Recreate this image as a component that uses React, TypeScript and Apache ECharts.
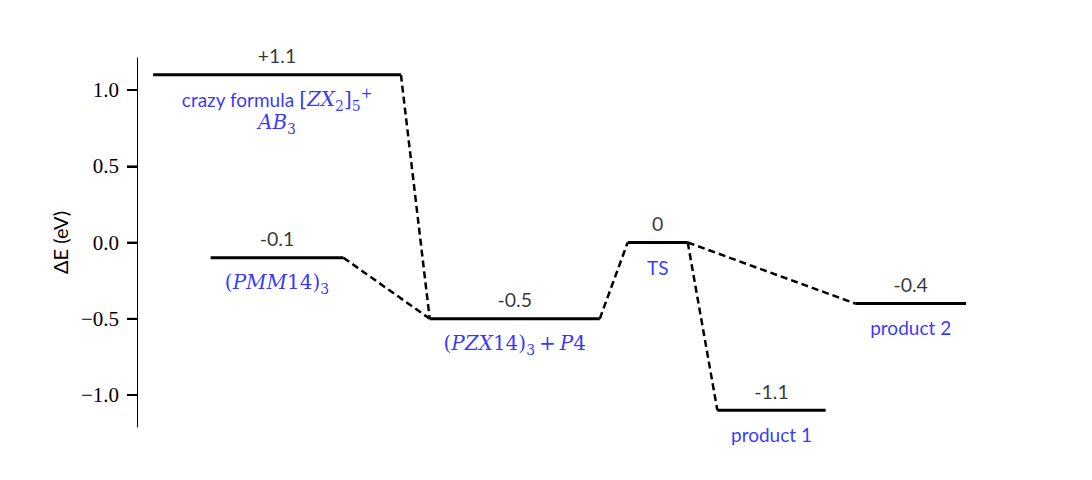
import React, { useEffect, useRef } from "react";
import * as echarts from "echarts";

// Energy levels (eV)
const levelEnergies = [1.1, -0.1, -0.5, 0, -1.1, -0.4];
// Horizontal extent of each level (arbitrary reaction-coordinate units, 0..100)
const levelStart = [1.9, 8.7, 34.6, 58.0, 68.6, 84.9];
const levelEnd = [31.2, 24.4, 54.7, 65.1, 81.4, 98.0];
// Value labels above each level
const valueLabels = ["+1.1", "-0.1", "-0.5", "0", "-1.1", "-0.4"];
// Name labels below each level (rich text)
const nameLabels = [
  "{sans|crazy formula }{rm|[}{it|ZX}{sub|2}{rm|]}{sub|5}{sup|+}\n{it|AB}{sub|3}",
  "{rm|(}{it|PMM}{rm|14)}{sub|3}",
  "{rm|(}{it|PZX}{rm|14)}{sub|3}{rm|\u2009+\u2009}{it|P}{rm|4}",
  "{sans|TS}",
  "{sans|product 1}",
  "{sans|product 2}",
];
// Links between levels: [from, to]
const links: [number, number][] = [
  [0, 2],
  [1, 2],
  [2, 3],
  [3, 4],
  [3, 5],
];
const yTicks = [-1.0, -0.5, 0.0, 0.5, 1.0];

const SANS = "Lato";
const SERIF = "Liberation Serif";
const MATH = "DejaVu Serif";
const BLUE = "#0000ff";

export default function App() {
  const ref = useRef<HTMLDivElement>(null);
  useEffect(() => {
    if (!ref.current) return;
    const chart = echarts.init(ref.current, null, { renderer: "svg" });

    const levelSeries = levelEnergies.map((e, i) => ({
      type: "line" as const,
      data: [
        [levelStart[i], e],
        [levelEnd[i], e],
      ],
      symbol: "none",
      lineStyle: { color: "#000", width: 3, type: "solid" as const },
      silent: true,
      z: 3,
    }));

    const linkSeries = links.map(([a, b]) => ({
      type: "line" as const,
      data: [
        [levelEnd[a], levelEnergies[a]],
        [levelStart[b], levelEnergies[b]],
      ],
      symbol: "none",
      lineStyle: { color: "#000", width: 2.5, type: [7, 4] as any },
      silent: true,
      z: 2,
    }));

    const mids = levelEnergies.map((e, i) => [
      (levelStart[i] + levelEnd[i]) / 2,
      e,
    ]);

    const richStyles = {
      sans: { fontFamily: SANS, fontSize: 19, color: BLUE, lineHeight: 23 },
      rm: {
        fontFamily: MATH,
        fontSize: 20,
        fontWeight: 300,
        color: BLUE,
        lineHeight: 23,
      },
      it: {
        fontFamily: MATH,
        fontSize: 20,
        fontStyle: "italic",
        fontWeight: 300,
        color: BLUE,
        lineHeight: 23,
      },
      sub: {
        fontFamily: MATH,
        fontSize: 14,
        color: BLUE,
        height: 10,
        lineHeight: 10,
        verticalAlign: "bottom",
      },
      sup: {
        fontFamily: MATH,
        fontSize: 14,
        color: BLUE,
        height: 10,
        lineHeight: 10,
        verticalAlign: "top",
      },
    };

    const valueSeries = {
      type: "scatter" as const,
      data: mids.map((m, i) => ({ value: m, name: valueLabels[i] })),
      symbolSize: 0,
      silent: true,
      label: {
        show: true,
        position: "top",
        distance: 9,
        formatter: (p: any) => p.name,
        fontFamily: SANS,
        fontSize: 19.5,
        color: "#000",
      },
    };

    const nameSeries = {
      type: "scatter" as const,
      data: mids.map((m, i) => ({ value: m, name: nameLabels[i] })),
      symbolSize: 0,
      silent: true,
      label: {
        show: true,
        position: "bottom",
        distance: 13,
        formatter: (p: any) => p.name,
        rich: richStyles,
      },
    };

    // Outward tick marks on the y axis, drawn at the axis (x = 0)
    const tickSeries = {
      type: "scatter" as const,
      data: yTicks.map((t) => [0, t]),
      symbol: "rect",
      symbolSize: [10, 2],
      symbolOffset: [-5, 0],
      itemStyle: { color: "#000" },
      clip: false,
      silent: true,
      z: 5,
    };

    chart.setOption({
      animation: false,
      backgroundColor: "#fff",
      grid: { left: 137, right: 109, top: 58, bottom: 53, containLabel: false },
      xAxis: {
        type: "value",
        min: 0,
        max: 100,
        show: false,
      },
      yAxis: {
        type: "value",
        min: -1.21,
        max: 1.21,
        name: "ΔE (eV)",
        nameLocation: "middle",
        nameGap: 67,
        nameRotate: 90,
        nameTextStyle: { fontFamily: SANS, fontSize: 20, color: "#000" },
        axisLine: { show: true, lineStyle: { color: "#000", width: 1 } },
        axisTick: {
          show: true,
          inside: false,
          length: 10,
          lineStyle: { color: "#000", width: 2 },
          customValues: yTicks,
        },
        axisLabel: {
          show: true,
          margin: 18,
          fontFamily: SERIF,
          fontSize: 21,
          color: "#000",
          customValues: yTicks,
          formatter: (v: number) => v.toFixed(1).replace("-", "\u2212"),
        },
        splitLine: { show: false },
      },
      series: [
        ...linkSeries,
        ...levelSeries,
        valueSeries,
        nameSeries,
        tickSeries,
      ],
    });

    return () => chart.dispose();
  }, []);

  return <div ref={ref} style={{ width: 1092, height: 480, margin: -8 }} />;
}
